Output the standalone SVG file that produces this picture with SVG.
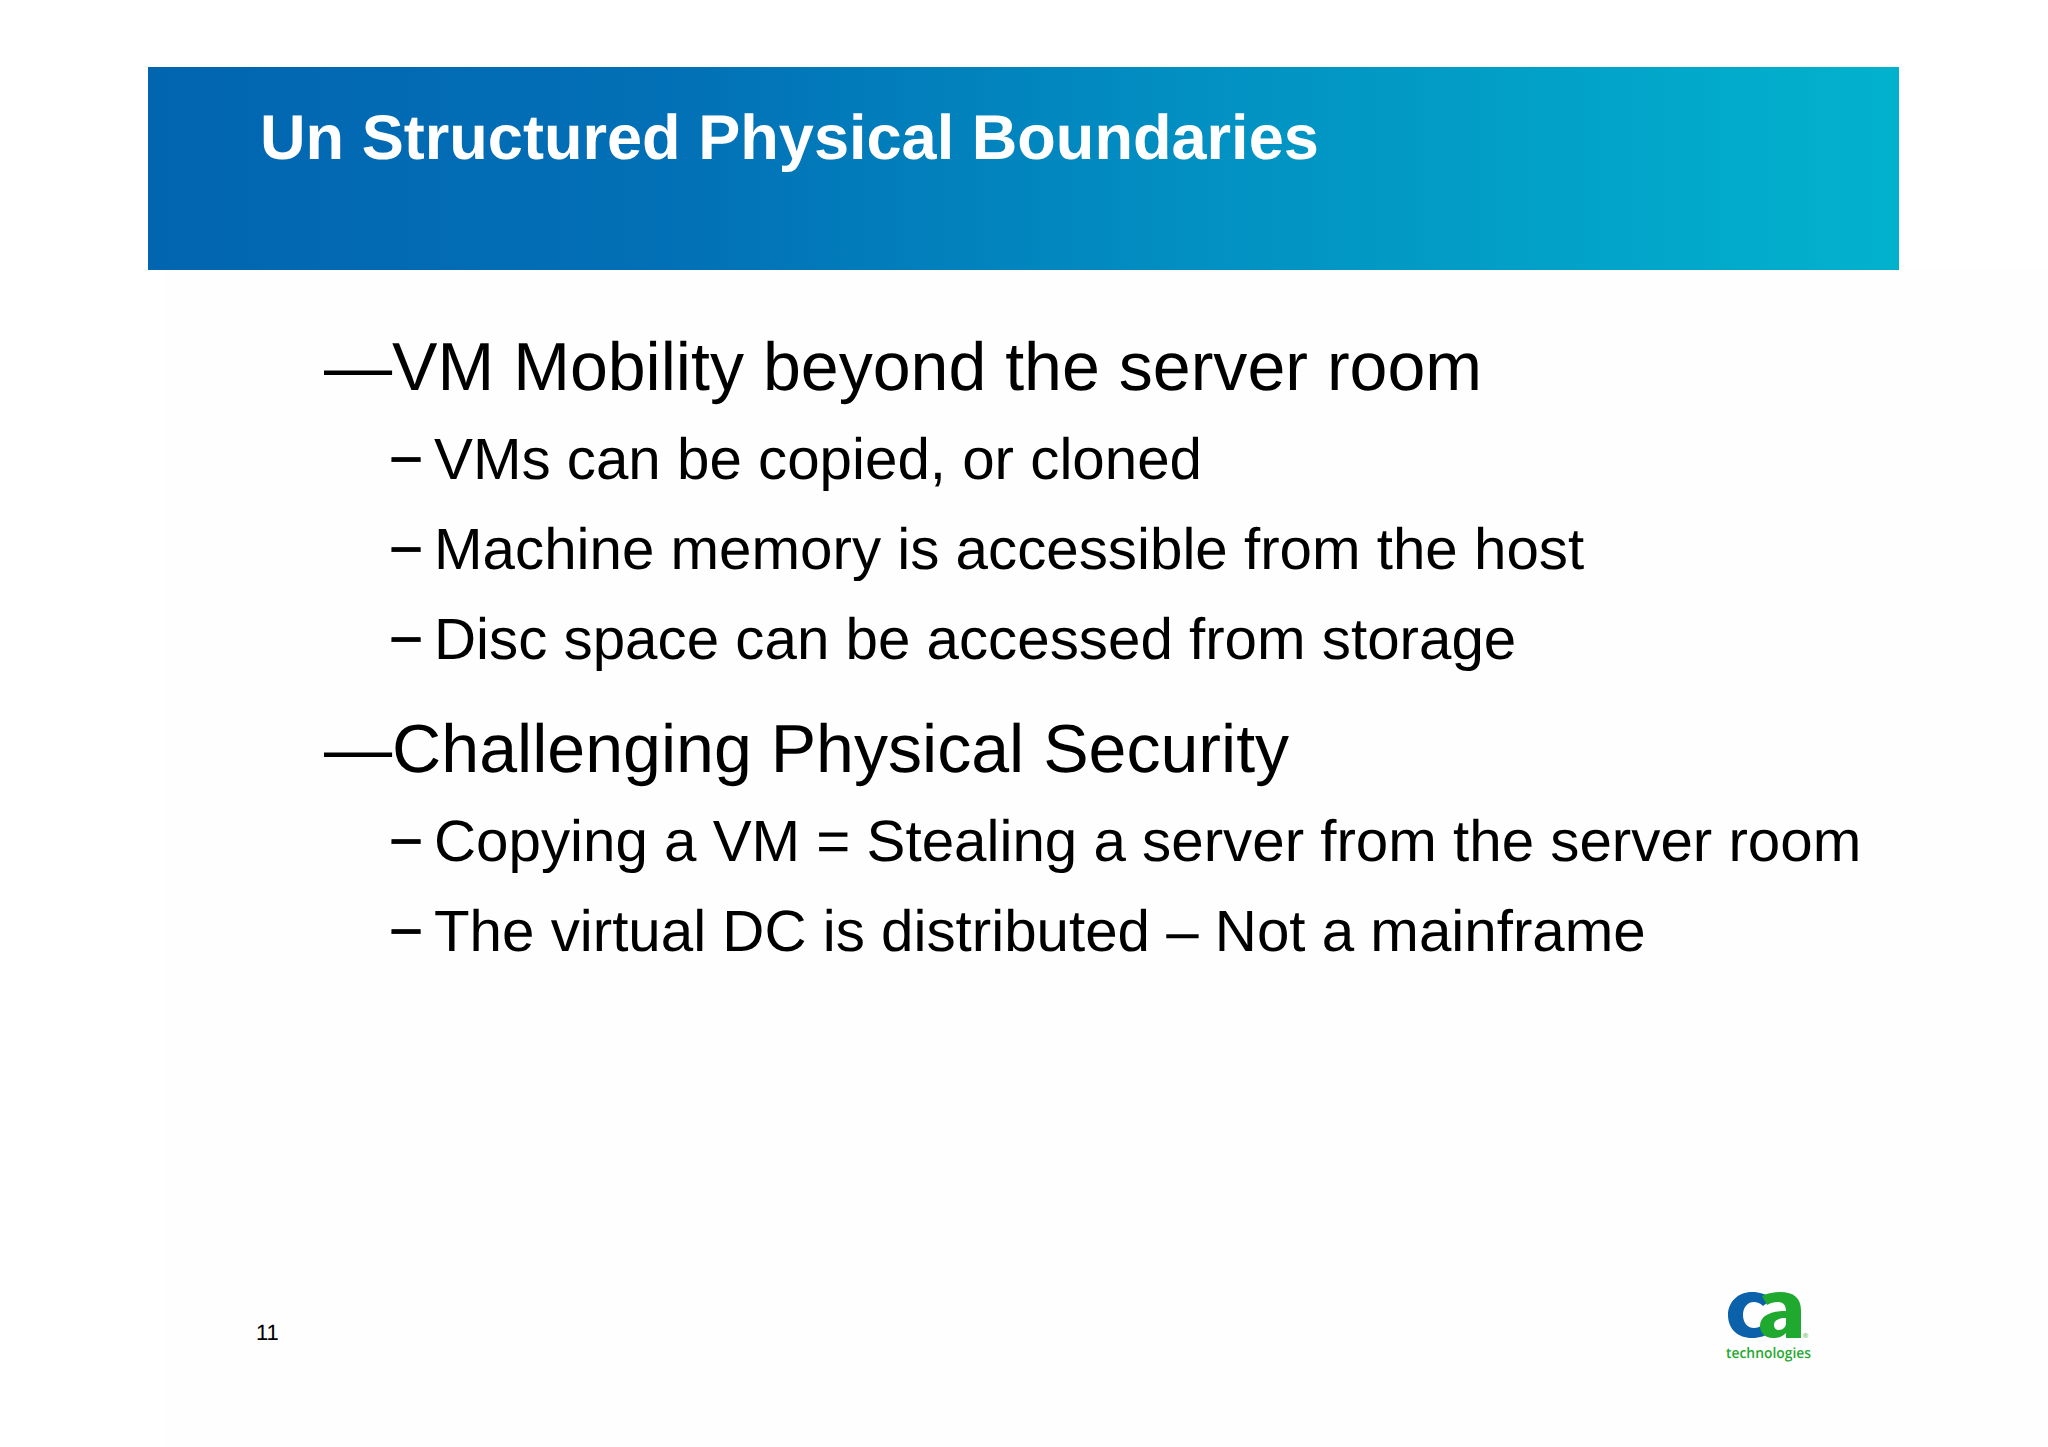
<svg xmlns="http://www.w3.org/2000/svg" width="2048" height="1447" viewBox="0 0 2048 1447">
<style>
text{font-family:"Liberation Sans",Arial,sans-serif;fill:#000;text-rendering:geometricPrecision}
.t{font-size:63.1px;font-weight:700;fill:#fff}
.l1{font-size:68.1px}
.l2{font-size:58.3px}
.d{stroke:#000;stroke-width:.8px}
</style>
<defs>
<linearGradient id="g" x1="0" x2="1" y1="0" y2="0">
<stop offset="0" stop-color="#0265b0"/><stop offset="0.3" stop-color="#0270b6"/><stop offset="0.6" stop-color="#0290c2"/><stop offset="1" stop-color="#02b2cd"/>
</linearGradient>
</defs>
<rect width="2048" height="1447" fill="#fff"/>
<rect x="165" y="270" width="1883" height="1177" fill="#fefefe"/>
<g id="banner">
<rect x="148" y="67" width="1751" height="203" fill="url(#g)"/>
<text class="t" x="260" y="159">Un Structured Physical Boundaries</text>
</g>
<g id="body">
<text class="l1" x="324" y="390">—VM Mobility beyond the server room</text>
<text class="l2 d" x="389" y="479">−</text><text class="l2" x="434" y="479">VMs can be copied, or cloned</text>
<text class="l2 d" x="389" y="569">−</text><text class="l2" x="434" y="569">Machine memory is accessible from the host</text>
<text class="l2 d" x="389" y="659">−</text><text class="l2" x="434" y="659">Disc space can be accessed from storage</text>
<text class="l1" x="324" y="772">—Challenging Physical Security</text>
<text class="l2 d" x="389" y="861">−</text><text class="l2" x="434" y="861">Copying a VM = Stealing a server from the server room</text>
<text class="l2 d" x="389" y="951">−</text><text class="l2" x="434" y="951">The virtual DC is distributed – Not a mainframe</text>
</g>
<text x="256" y="1340" font-size="22">11</text>
<g id="logo">
<path d="M1772 1299C1766 1294 1760 1292 1752 1292C1738 1292 1728 1302 1728 1315C1728 1329 1738 1338 1752 1338C1760 1338 1766 1336 1771 1331L1763 1324C1760 1327 1757 1328 1754 1328C1747 1328 1743 1322 1743 1315C1743 1308 1747 1302 1754 1302C1757 1302 1760 1303 1763 1306Z" fill="#0b62ab"/>
<path fill-rule="evenodd" d="M1762 1296C1768 1293 1774 1292 1780 1292C1794 1292 1801 1298 1801 1311V1338H1786V1333C1782 1337 1778 1338 1773 1338C1765 1338 1760 1333 1760 1326C1760 1316 1770 1311 1786 1311C1786 1305 1783 1302 1778 1302C1774 1302 1770 1303 1767 1305ZM1786 1318C1779 1318 1774 1320 1774 1325C1774 1328 1776 1330 1779 1330C1783 1330 1786 1327 1786 1323Z" fill="#1fa92f"/>
<text x="1726" y="1358" font-size="14.5" font-weight="600" textLength="85" lengthAdjust="spacingAndGlyphs" style="font-family:'Open Sans',sans-serif;fill:#1fa92f">technologies</text>
<text x="1803" y="1338" font-size="7" style="fill:#1fa92f">®</text>
</g>
</svg>
